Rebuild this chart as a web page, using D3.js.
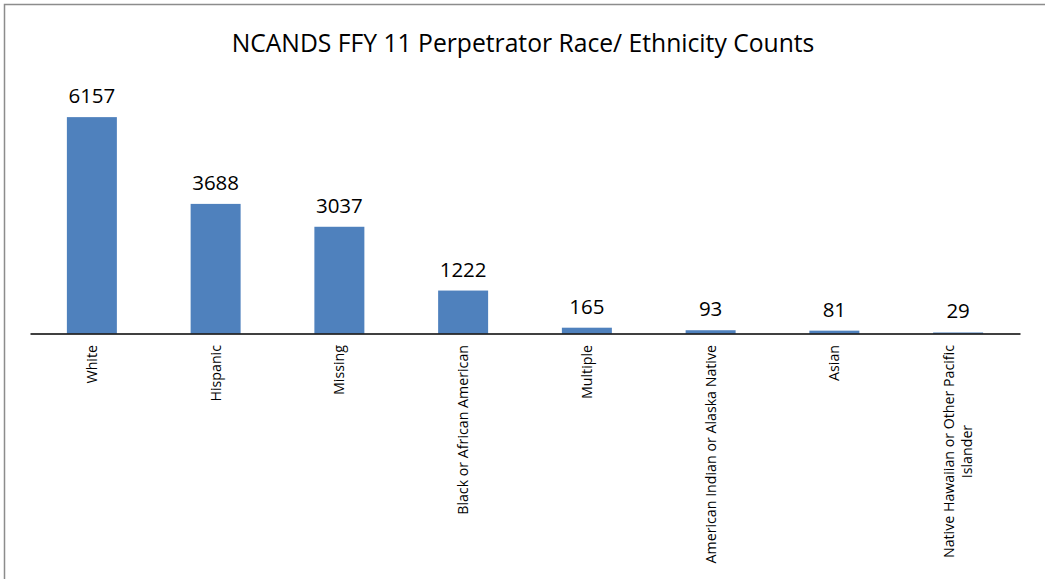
<!DOCTYPE html>
<html>
<head>
<meta charset="utf-8">
<script src="https://cdn.jsdelivr.net/npm/d3@7"></script>
<style>
  body { margin: 0; background: #fff; }
  svg { display: block; font-family: 'Open Sans', 'Noto Sans', sans-serif; }
</style>
</head>
<body>
<svg id="chart" width="1045" height="579"></svg>
<script>
const categories = ['White', 'Hispanic', 'Missing', 'Black or African American', 'Multiple',
  'American Indian or Alaska Native', 'Asian', 'Native Hawaiian or Other Pacific Islander'];
const counts = [6157, 3688, 3037, 1222, 165, 93, 81, 29];
// wrapped lines for the long category label
const labelLines = {
  'Native Hawaiian or Other Pacific Islander': ['Native Hawaiian or Other Pacific', 'Islander']
};
const titleText = 'NCANDS FFY 11 Perpetrator Race/ Ethnicity Counts';

var svg = d3.select('#chart');
var margin = { top: 87.5, left: 30, right: 25, baseline: 333.5 };
var width = 1045;

// outer frame (only top/left visible in the crop)
svg.append('rect')
   .attr('x', 4.5).attr('y', 4.5)
   .attr('width', 1100).attr('height', 600)
   .attr('fill', 'none')
   .attr('stroke', '#8c8c8c')
   .attr('stroke-width', 1.5);

var x = d3.scaleBand().domain(categories).range([margin.left, width - margin.right]).paddingInner(0.596).paddingOuter(0.298);
var y = d3.scaleLinear().domain([0, 7000]).range([margin.baseline, margin.top]);

// fit text to a width
function fitText(sel, target) {
  var w = sel.node().getComputedTextLength();
  var fs = parseFloat(sel.attr('font-size'));
  sel.attr('font-size', fs * target / w);
}

var title = svg.append('text')
   .attr('x', 523).attr('y', 52)
   .attr('text-anchor', 'middle')
   .attr('font-size', 24)
   .attr('fill', '#000')
   .text(titleText);
fitText(title, 583);

svg.append('g').selectAll('rect').data(counts).enter().append('rect')
   .attr('x', (d, i) => x(categories[i]))
   .attr('y', d => y(d))
   .attr('width', x.bandwidth())
   .attr('height', d => y(0) - y(d))
   .attr('fill', '#4f81bd');

svg.append('g').selectAll('text').data(counts).enter().append('text')
   .attr('x', (d, i) => x(categories[i]) + x.bandwidth() / 2)
   .attr('y', d => y(d) - 14)
   .attr('text-anchor', 'middle')
   .attr('font-size', 20.5)
   .attr('fill', '#000')
   .text(d => d);

// axis line
svg.append('g')
   .attr('transform', `translate(0,${margin.baseline})`)
   .call(d3.axisBottom(x).tickSize(0).tickFormat(''))
   .call(g => g.select('.domain').attr('stroke', '#000').attr('stroke-width', 1.3));

// measure label font against "Black or African American" (~170px)
var probe = svg.append('text').attr('font-size', 14).text('Black or African American');
var labelSize = 14 * 170 / probe.node().getComputedTextLength();
probe.remove();

var labels = svg.append('g');
categories.forEach(function(cat) {
  var lines = labelLines[cat] || [cat];
  var cx = x(cat) + x.bandwidth() / 2;
  var lh = labelSize * 1.25;
  var g = labels.append('g')
     .attr('transform', `translate(${cx},345) rotate(-90)`);
  if (lines.length === 1) {
    g.append('text')
     .attr('x', 0).attr('y', labelSize * 0.35)
     .attr('text-anchor', 'end')
     .attr('font-size', labelSize)
     .text(lines[0]);
  } else {
    // wrapped block: first line flush to the axis, following lines centered under it
    var probeW = g.append('text').attr('font-size', labelSize).text(lines[0]);
    var w0 = probeW.node().getComputedTextLength();
    probeW.remove();
    lines.forEach(function(line, idx) {
      g.append('text')
       .attr('x', -w0 / 2)
       .attr('y', labelSize * 0.35 + (idx - (lines.length - 1) / 2) * lh)
       .attr('text-anchor', 'middle')
       .attr('font-size', labelSize)
       .text(line);
    });
  }
});
</script>
</body>
</html>
